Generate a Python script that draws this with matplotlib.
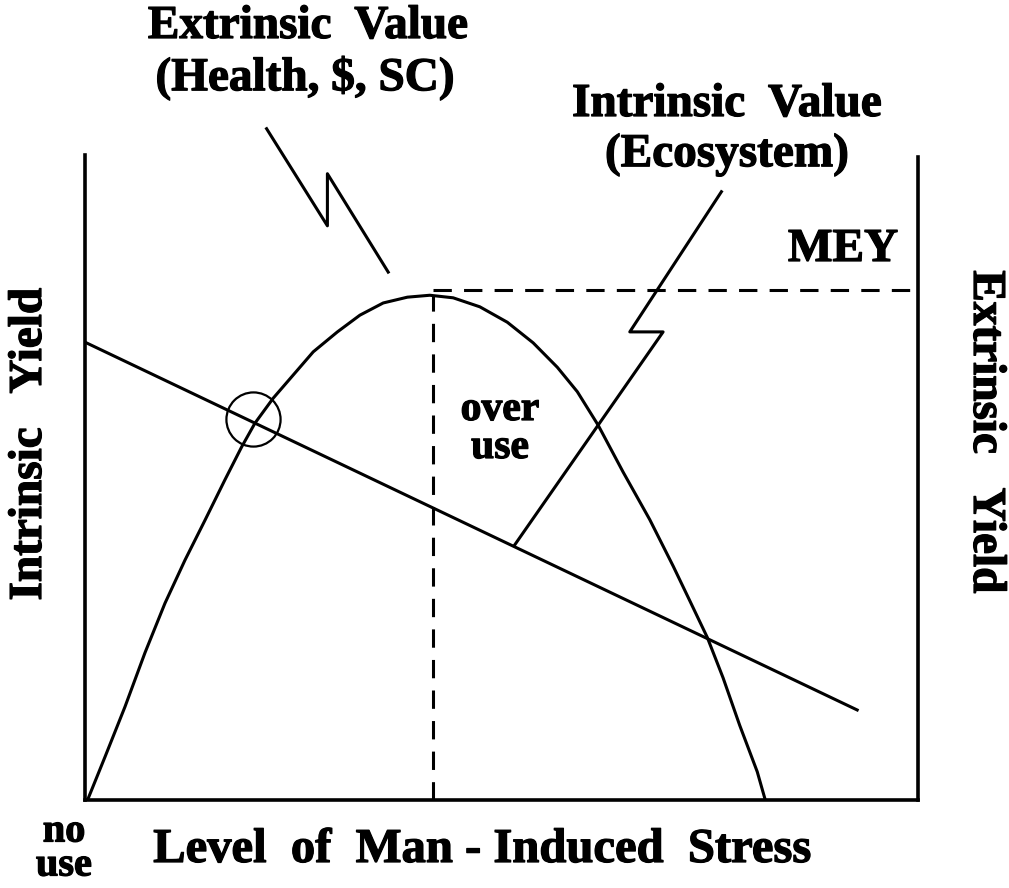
import matplotlib.pyplot as plt
import matplotlib.patheffects as pe

plt.rcParams['font.family'] = ['Liberation Serif', 'DejaVu Serif']
plt.rcParams['font.weight'] = 'bold'

# level of stress (0-100) vs yield (0-100)
stress_ext = [0.4, 2.4, 4.8, 7.2, 9.6, 12.0, 14.4, 16.8, 18.8, 20.4, 22.6,
              25.0, 27.4, 30.3, 33.0, 35.8, 38.7, 41.4, 44.2, 47.4, 50.7,
              53.8, 56.7, 59.1, 61.6, 64.6, 67.8, 70.6, 72.6, 74.7, 76.6,
              78.6, 80.7, 81.6]
yield_ext = [0.3, 6.7, 14.5, 22.9, 30.6, 37.3, 43.5, 49.8, 54.9, 58.6, 62.5,
             66.1, 69.7, 72.8, 75.4, 77.3, 78.2, 78.5, 78.1, 76.7, 74.3,
             71.1, 67.3, 63.5, 58.3, 51.0, 43.6, 36.4, 31.0, 25.3, 19.0,
             11.6, 4.4, 0.3]

stress_int = [0, 92.7]
yield_int = [71.2, 14.0]

# MEY point
mey_x = 41.8
mey_y = 79.3

# crossing point marked with a circle
cross_x = 20.2
cross_y = 59.3

# pointer "lightning" lines from the labels
ext_ptr_x = [21.8, 29.1, 29.1, 36.4]
ext_ptr_y = [104.4, 89.3, 97.4, 82.1]
int_ptr_x = [76.4, 65.4, 69.4, 51.6]
int_ptr_y = [94.6, 72.8, 72.8, 39.7]

W, H = 1009, 888
fig = plt.figure(figsize=(W / 100, H / 100), dpi=100)
ax = fig.add_axes([85 / W, (H - 800) / H, (918 - 85) / W, (800 - 157) / H])
ax.set_xlim(0, 100)
ax.set_ylim(0, 100)
ax.set_xticks([])
ax.set_yticks([])
ax.spines['top'].set_visible(False)
for s in ['left', 'bottom', 'right']:
    ax.spines[s].set_linewidth(2.6)
ax.spines['left'].set_bounds(0, 100.3)

lw = 2.2
ax.plot(stress_ext, yield_ext, color='black', lw=lw, solid_joinstyle='round')
ax.plot(stress_int, yield_int, color='black', lw=lw)
ax.plot([mey_x, mey_x], [0, max(yield_ext)], color='black', lw=lw,
        dashes=(6, 4))
ax.plot([mey_x, 100], [mey_y, mey_y], color='black', lw=lw, dashes=(6, 4))
ax.plot([cross_x], [cross_y], marker='o', markersize=39, fillstyle='none',
        markeredgewidth=1.6, color='black')
ax.plot(ext_ptr_x, ext_ptr_y, color='black', lw=lw, clip_on=False)
ax.plot(int_ptr_x, int_ptr_y, color='black', lw=lw, clip_on=False)

heavy = [pe.withStroke(linewidth=0.9, foreground='black')]

def ftext(px, py, s, size=34, **kw):
    fig.text(px / W, 1 - py / H, s, fontsize=size, fontweight='bold',
             ha='center', va='center', path_effects=heavy, **kw)

ftext(308, 27, 'Extrinsic  Value')
ftext(305, 78, '(Health, $, SC)')
ftext(727, 105, 'Intrinsic  Value')
ftext(727, 155, '(Ecosystem)')
ftext(843, 250, 'MEY')
ftext(500, 410, 'over', size=30)
ftext(500, 448, 'use', size=30)
ftext(30, 444, 'Intrinsic   Yield', rotation=90)
ftext(985, 432, 'Extrinsic   Yield', rotation=-90)
ftext(64, 832, 'no', size=29)
ftext(64, 866, 'use', size=29)
ftext(482, 850, 'Level  of  Man - Induced  Stress', size=35)

fig.savefig('out.png', dpi=100)
